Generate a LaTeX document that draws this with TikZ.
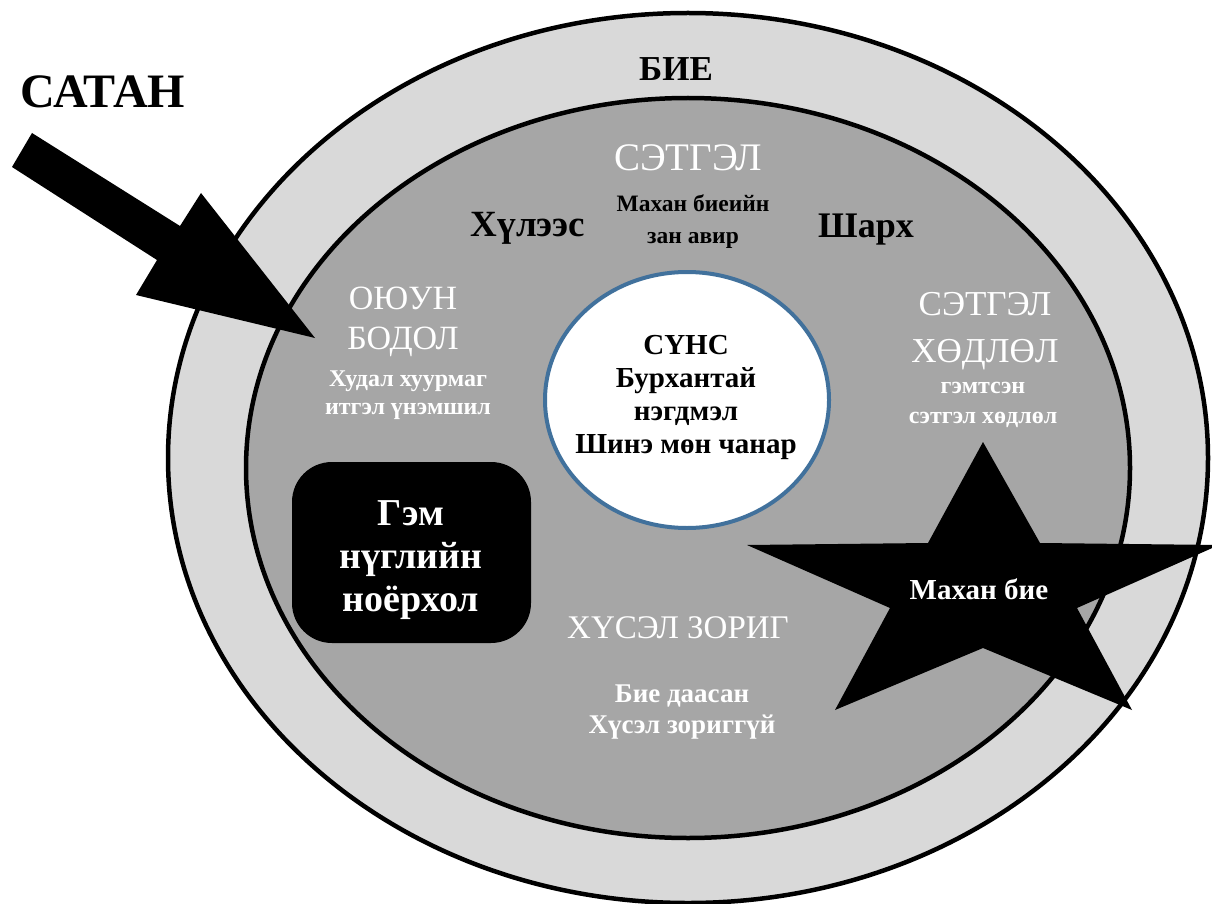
\documentclass[tikz,border=0pt]{standalone}
\usepackage{fontspec}
\usetikzlibrary{shapes.geometric}
\setmainfont{Liberation Serif}
\newcommand\myfs[2]{\fontsize{#1}{#2}\selectfont}
\definecolor{outerfill}{HTML}{D9D9D9}
\definecolor{innerfill}{HTML}{A6A6A6}
\definecolor{soulblue}{HTML}{41719C}
\tikzset{
  lbl/.style={inner sep=0pt, align=center},
  wlbl/.style={lbl, text=white},
  ring/.style={draw=black, line width=4.5pt},
}
\begin{document}
\begin{tikzpicture}[x=1pt,y=-1pt]
\useasboundingbox (0,0) rectangle (1212,904);
\begin{scope}
\clip (0,0) rectangle (1212,904);
% body and soul rings
\path[ring, fill=outerfill] (688,458) ellipse [x radius=520, y radius=445];
\path[ring, fill=innerfill] (688,468) ellipse [x radius=442, y radius=370];
% spirit
\node[ellipse, draw=soulblue, line width=4pt, fill=white, minimum width=284pt, minimum height=256pt, inner sep=0pt] (spirit) at (687,400) {};
% star
\fill[black] (983,442) -- (1040,543) -- (1219,545) -- (1077,608) -- (1132,710) -- (983,648) -- (835,710) -- (890,608) -- (747,545) -- (928,543) -- cycle;
% arrow
\coordinate (arrtip) at (315,338);
\fill[black] (32,133) -- (180,226) -- (201,193) -- (arrtip) -- (136,295) -- (157,260) -- (12,167) -- cycle;
\end{scope}
% texts
\node[lbl, font={\myfs{48}{52}\bfseries}] (satan) at (103,92) {САТАН};
\node[lbl, font={\myfs{35}{38}\bfseries}] (bie) at (676,69) {БИЕ};
\node[wlbl, font={\myfs{39}{42}}] (setgel) at (688,158) {СЭТГЭЛ};
\node[lbl, font={\myfs{23.5}{32}\bfseries}] (mahanb) at (693,222) {Махан биеийн\\зан авир};
\node[lbl, font={\myfs{37}{40}\bfseries}] (hulees) at (528,228) {Хүлээс};
\node[lbl, font={\myfs{36}{40}\bfseries}] (sharh) at (866,230) {Шарх};
\node[wlbl, font={\myfs{34}{40}}] (oyun) at (403,322) {ОЮУН\\БОДОЛ};
\node[wlbl, font={\myfs{24}{28}\bfseries}] (hudal) at (408,395) {Худал хуурмаг\\итгэл үнэмшил};
\node[wlbl, font={\myfs{35}{47}}] (setgel2) at (985,331) {СЭТГЭЛ\\ХӨДЛӨЛ};
\node[wlbl, font={\myfs{24}{30}\bfseries}] (gemtsen) at (983,405) {гэмтсэн\\сэтгэл хөдлөл};
\node[lbl, font={\myfs{29}{33}\bfseries}] (suns) at (686,397) {СҮНС\\Бурхантай\\нэгдмэл\\Шинэ мөн чанар};
\node[wlbl, font={\myfs{33}{35}}] (husel) at (678,628) {ХҮСЭЛ ЗОРИГ};
\node[wlbl, font={\myfs{27}{31}\bfseries}] (bieda) at (682,712) {Бие даасан\\Хүсэл зориггүй};
\node[fill=black, rounded corners=40pt, minimum width=239pt, minimum height=181pt, inner sep=0pt] (gem) at (411.5,552.5) {};
\node[wlbl, font={\myfs{38}{43}\bfseries}] (gemtxt) at (411,560) {Гэм\\нүглийн\\ноёрхол};
\node[wlbl, font={\myfs{29}{32}\bfseries}] (mahanbie) at (979,589) {Махан бие};
\end{tikzpicture}
\end{document}
